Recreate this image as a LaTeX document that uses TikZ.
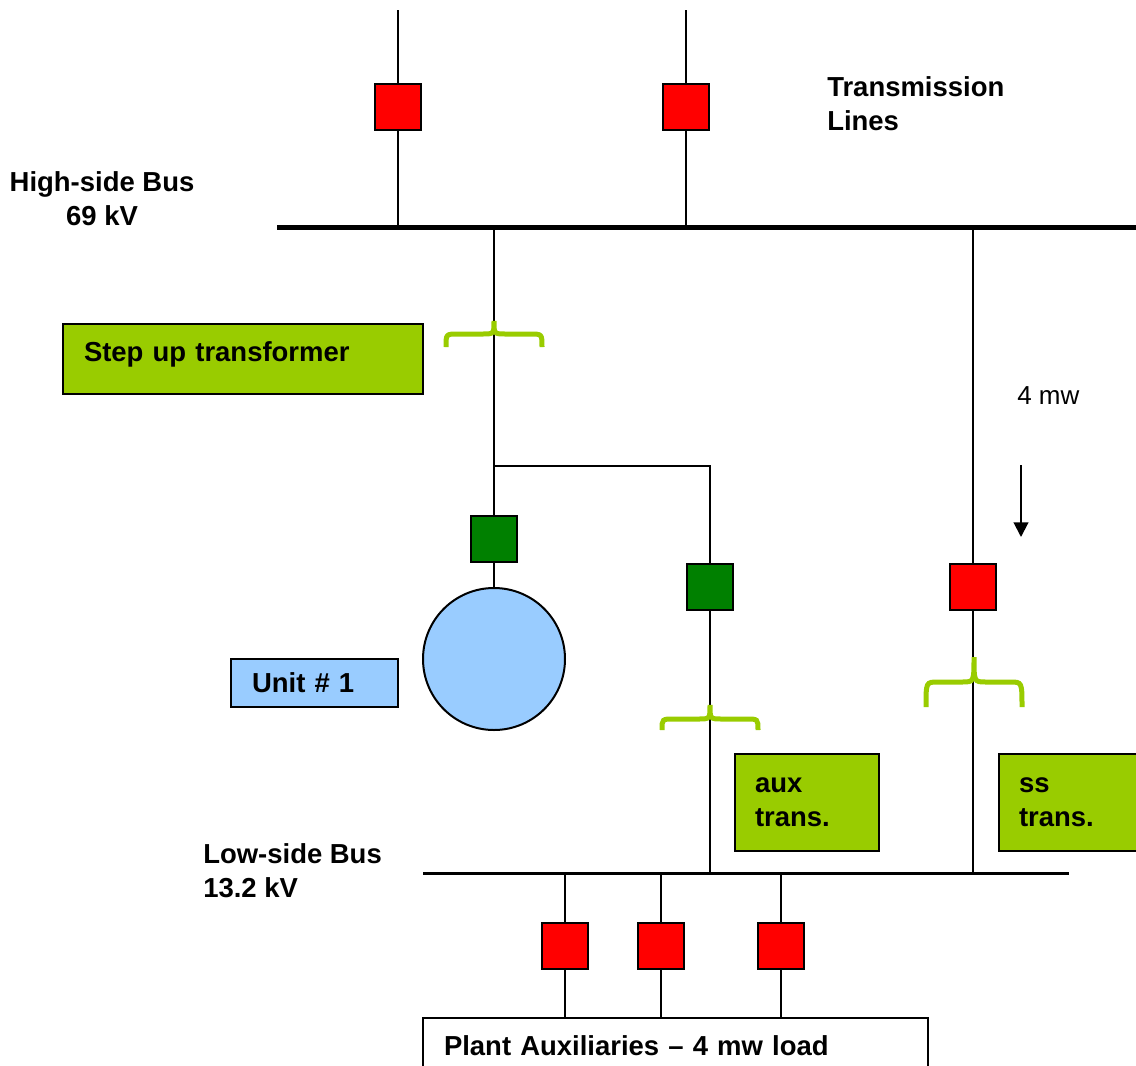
\documentclass[tikz,border=0pt]{standalone}
\usepackage{fontspec}
\setmainfont{Liberation Sans}
\usetikzlibrary{arrows.meta}

\definecolor{brkred}{HTML}{FF0000}
\definecolor{brkgreen}{HTML}{008000}
\definecolor{xfgreen}{HTML}{99CC00}
\definecolor{unitblue}{HTML}{99CCFF}

\newcommand{\lblfont}{\fontsize{20.6}{25.5}\selectfont\bfseries}
% transformer brace: #1 x, #2 tip y, #3 tip to arm, #4 arm to ends
\newcommand{\xfbrace}[4]{%
  \draw[xfbr] (#1-48,#2+#3+#4) .. controls (#1-48,#2+#3) .. (#1-36,#2+#3) -- (#1-12,#2+#3)
    .. controls (#1,#2+#3) .. (#1,#2) .. controls (#1,#2+#3) .. (#1+12,#2+#3)
    -- (#1+36,#2+#3) .. controls (#1+48,#2+#3) .. (#1+48,#2+#3+#4);}

\begin{document}
\begin{tikzpicture}[x=0.75pt,y=0.75pt,yscale=-1,xscale=1,
  wire/.style={line width=1.5pt},
  hsbus/.style={line width=3.75pt},
  lsbus/.style={line width=2.25pt},
  breaker/.style={draw, line width=1.5pt, minimum size=34.5pt, inner sep=0pt},
  lbl/.style={font=\lblfont, inner sep=0pt},
  tbox/.style={draw, line width=1.5pt, font=\lblfont, align=left, anchor=north west, inner ysep=0pt},
  xfbr/.style={draw=xfgreen, line width=3.75pt}]
\useasboundingbox (0,0) rectangle (1136,1065);

% Buses
\coordinate (hsl) at (277,227);
\coordinate (hsr) at (1136,227);
\coordinate (lsl) at (423,873);
\coordinate (lsr) at (1069,873);
\coordinate (top1) at (398,10);
\coordinate (top2) at (686,10);
\coordinate (tap) at (494,466);

% Breakers
\draw (398,107) node (tl1) [breaker, fill=brkred] {};
\draw (686,107) node (tl2) [breaker, fill=brkred] {};
\draw (494,539) node (gcb) [breaker, fill=brkgreen] {};
\draw (710,587) node (acb) [breaker, fill=brkgreen] {};
\draw (973,587) node (scb) [breaker, fill=brkred] {};
\draw (565,946) node (f1) [breaker, fill=brkred] {};
\draw (661,946) node (f2) [breaker, fill=brkred] {};
\draw (781,946) node (f3) [breaker, fill=brkred] {};

% Generator
\draw (494,659) node (gen) [circle, draw, line width=1.5pt, fill=unitblue, minimum size=106.5pt] {};

% Boxes
\draw (62,323) node (stepup) [tbox, fill=xfgreen, minimum width=270pt, minimum height=52.5pt, inner xsep=15.75pt, text width=238.5pt, text depth=11.8pt] {Step up transformer};
\draw (230,658) node (unit) [tbox, fill=unitblue, minimum width=125.25pt, minimum height=36pt, inner xsep=15.75pt, text width=93.75pt] {Unit \# 1};
\draw (734,753) node (aux) [tbox, fill=xfgreen, minimum width=108pt, minimum height=72.75pt, inner xsep=15pt, text width=78pt] {aux\\trans.};
\draw (998,753) node (ss) [tbox, fill=xfgreen, minimum width=108pt, minimum height=72.75pt, inner xsep=15pt, text width=78pt] {ss\\trans.};
\draw (422,1017) node (plant) [tbox, fill=white, minimum width=378.75pt, minimum height=42pt, inner xsep=15.75pt, text width=347.25pt] {Plant Auxiliaries -- 4 mw load};

% Text Node
\draw (827,104) node (trlines) [lbl, anchor=west, align=left] {Transmission\\Lines};
% Text Node
\draw (102,199) node (hslabel) [lbl, align=center] {High-side Bus\\69 kV};
% Text Node
\draw (203,871) node (lslabel) [lbl, anchor=west, align=left] {Low-side Bus\\13.2 kV};
% Text Node
\draw (1017,396) node (mw) [inner sep=0pt, anchor=west, font=\fontsize{19.5}{23}\selectfont] {4 mw};
\coordinate (mw1) at (1021,465);
\coordinate (mw2) at (1021,537);

% Lines
\draw[wire] (top1) -- (tl1);
\draw[wire] (tl1) -- (tl1 |- hsl);
\draw[wire] (top2) -- (tl2);
\draw[wire] (tl2) -- (tl2 |- hsl);
\draw[hsbus] (hsl) -- (hsr);
\draw[wire] (gcb |- hsl) -- (gcb);
\draw[wire] (gcb) -- (gen);
\draw[wire] (tap) -| (acb);
\draw[wire] (acb) -- (acb |- lsl);
\draw[wire] (scb |- hsl) -- (scb);
\draw[wire] (scb) -- (scb |- lsl);
\draw[lsbus] (lsl) -- (lsr);
\foreach \f in {f1,f2,f3} {
  \draw[wire] (\f |- lsl) -- (\f);
  \draw[wire] (\f) -- (\f |- plant.north);
}
\draw[wire, -{Triangle[width=11pt,length=11pt]}] (mw1) -- (mw2);

% Braces
\xfbrace{494}{321}{13}{13}
\xfbrace{710}{705}{14}{11}
\xfbrace{974}{657}{25}{25}

\end{tikzpicture}
\end{document}
